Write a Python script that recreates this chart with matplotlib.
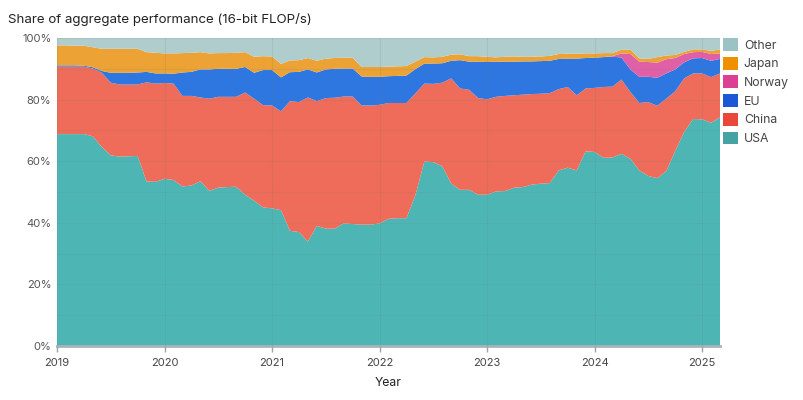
import numpy as np
import matplotlib
matplotlib.use("Agg")
import matplotlib.pyplot as plt
from matplotlib.patches import Patch
from matplotlib.ticker import MultipleLocator, FuncFormatter

plt.rcParams['font.family'] = ['Inter', 'DejaVu Sans']

# Monthly observations, Jan 2019 .. Mar 2025 (75 months)
start_year = 2019
# cumulative upper boundaries (percent)
usa_top = [68.8, 68.8, 68.8, 68.8, 68.1, 64.6, 61.9, 61.5, 61.6, 61.7, 53.4, 53.3,
           54.3, 53.9, 51.8, 52.1, 53.5, 50.4, 51.4, 51.6, 51.7, 49.1, 47.2, 45.0,
           44.7, 44.1, 37.4, 37.0, 33.9, 39.0, 38.1, 38.1, 39.8, 39.6, 39.4, 39.4,
           39.8, 41.3, 41.5, 41.5, 48.9, 59.9, 59.7, 58.4, 52.7, 50.7, 50.7, 49.1,
           49.1, 50.2, 50.3, 51.4, 51.6, 52.4, 52.7, 52.9, 57.0, 57.9, 57.0, 63.2,
           63.0, 61.1, 61.2, 62.4, 60.8, 57.0, 55.2, 54.5, 56.8, 63.3, 69.5, 73.7,
           73.6, 72.5, 74.2]
china_top = [90.7, 90.7, 90.7, 90.7, 90.1, 88.7, 85.5, 84.9, 84.9, 84.9, 85.6, 85.2,
             85.4, 85.2, 81.2, 81.2, 80.7, 80.3, 80.9, 80.9, 80.9, 82.3, 80.3, 78.2,
             78.1, 76.2, 79.5, 79.2, 80.7, 79.5, 80.5, 80.6, 81.0, 81.0, 78.1, 78.1,
             78.3, 78.9, 78.9, 78.9, 82.0, 85.2, 85.1, 85.5, 86.9, 83.6, 83.2, 80.5,
             80.1, 80.9, 81.2, 81.4, 81.6, 81.8, 81.9, 82.1, 83.4, 84.1, 81.4, 83.6,
             83.8, 84.1, 84.2, 86.5, 82.5, 78.9, 79.2, 78.0, 80.3, 82.7, 86.9, 88.5,
             88.5, 87.3, 88.5]
eu_top = [91.1, 91.1, 91.1, 91.0, 90.5, 89.3, 88.7, 88.7, 88.7, 88.8, 89.0, 88.5,
          88.5, 88.4, 88.8, 89.0, 89.8, 89.8, 90.0, 90.0, 90.0, 90.6, 88.7, 89.6,
          89.6, 87.2, 88.9, 89.0, 89.8, 88.8, 89.8, 90.0, 90.1, 90.1, 87.5, 87.4,
          87.4, 87.6, 87.7, 87.8, 89.9, 91.7, 91.7, 91.8, 92.6, 92.8, 92.3, 92.3,
          92.2, 92.3, 92.3, 92.3, 92.4, 92.4, 92.5, 92.6, 93.2, 93.3, 93.3, 93.5,
          93.6, 93.8, 93.9, 93.7, 89.8, 87.4, 87.4, 87.1, 88.5, 89.8, 92.1, 93.4,
          93.5, 92.6, 93.2]
norway_top = [91.1, 91.1, 91.1, 91.0, 90.5, 89.3, 88.7, 88.7, 88.7, 88.8, 89.0, 88.5,
              88.5, 88.4, 88.8, 89.0, 89.8, 89.8, 90.0, 90.0, 90.0, 90.6, 88.7, 89.6,
              89.6, 87.2, 88.9, 89.0, 89.8, 88.8, 89.8, 90.0, 90.1, 90.1, 87.5, 87.4,
              87.4, 87.6, 87.7, 87.8, 89.9, 91.7, 91.7, 91.8, 92.6, 92.8, 92.3, 92.3,
              92.2, 92.3, 92.3, 92.3, 92.4, 92.4, 92.5, 92.6, 93.2, 93.3, 93.3, 93.5,
              93.6, 93.8, 94.1, 95.0, 94.8, 92.3, 92.2, 92.0, 93.1, 93.5, 94.8, 95.4,
              95.5, 94.8, 95.0]
japan_top = [97.6, 97.6, 97.5, 97.5, 97.0, 96.5, 96.5, 96.5, 96.5, 96.5, 95.4, 95.2,
             95.0, 95.0, 95.1, 95.2, 95.4, 95.0, 95.1, 95.1, 95.2, 95.4, 93.9, 94.1,
             94.0, 91.6, 92.7, 92.8, 93.5, 92.6, 93.3, 93.5, 93.6, 93.6, 90.6, 90.6,
             90.6, 90.7, 90.8, 90.9, 92.3, 93.8, 93.7, 93.9, 94.6, 94.7, 94.1, 94.1,
             93.9, 93.7, 93.9, 94.0, 93.9, 93.9, 94.0, 94.2, 94.8, 94.9, 94.9, 95.0,
             95.0, 95.1, 95.1, 96.2, 96.2, 93.4, 93.2, 93.8, 94.3, 94.5, 95.5, 96.3,
             96.3, 95.8, 96.3]

labels = ["USA", "China", "EU", "Norway", "Japan", "Other"]
area_colors = ["#4db6b4", "#ee6c59", "#2f77e0", "#e060a8", "#eca235", "#afcdcd"]
legend_colors = ["#46a3a3", "#e8473a", "#1c57d6", "#dc3f94", "#ee9000", "#9cc3c3"]

usa = np.array(usa_top)
china = np.array(china_top) - usa
eu = np.array(eu_top) - np.array(china_top)
norway = np.array(norway_top) - np.array(eu_top)
japan = np.array(japan_top) - np.array(norway_top)
other = 100 - np.array(japan_top)

x = start_year + np.arange(len(usa_top)) / 12.0

fig = plt.figure(figsize=(8.04, 4.0), dpi=100)
ax = fig.add_axes([57/804, 54/400, (720-57)/804, (346-38)/400])

ax.stackplot(x, usa, china, eu, norway, japan, other, colors=area_colors,
             linewidth=0, edgecolor='none')

ax.set_xlim(x[0], x[-1])
ax.set_ylim(0, 100)
ax.yaxis.set_major_locator(MultipleLocator(20))
ax.yaxis.set_minor_locator(MultipleLocator(10))
ax.yaxis.set_major_formatter(FuncFormatter(lambda v, p: f"{int(v)}%"))
ax.set_xticks(range(2019, 2026))
ax.set_xticklabels([str(y) for y in range(2019, 2026)])

ax.set_axisbelow(False)
ax.grid(True, which='both', axis='y', color='#6a7a7a', alpha=0.12, linewidth=0.8)
ax.grid(True, which='major', axis='x', color='#6a7a7a', alpha=0.15, linewidth=0.8)

for s in ['top', 'right', 'left']:
    ax.spines[s].set_visible(False)
ax.spines['bottom'].set_color('#a9b4b8')
ax.spines['bottom'].set_linewidth(2)

ax.tick_params(axis='x', colors='#9aa5a8', length=4, width=1, labelcolor='#444',
               labelsize=8, pad=5)
ax.tick_params(axis='y', which='both', length=0, labelcolor='#555', labelsize=8, pad=4)

ax.set_xlabel("Year", fontsize=8.8, color='#222', labelpad=6)

fig.text(8/804, 1 - 20/400, "Share of aggregate performance (16-bit FLOP/s)",
         fontsize=9.6, color='#222', va='center', ha='left')

handles = [Patch(facecolor=legend_colors[i], edgecolor='none', label=labels[i])
           for i in range(5, -1, -1)]
leg = fig.legend(handles=handles, loc='upper left', bbox_to_anchor=(723/804, 1 - 38/400),
                 frameon=False, fontsize=8.8, handlelength=1.25, handleheight=1.25,
                 handletextpad=0.45, labelspacing=0.42, borderaxespad=0, borderpad=0)
for t in leg.get_texts():
    t.set_color('#444')

fig.savefig("out.png", dpi=100)
